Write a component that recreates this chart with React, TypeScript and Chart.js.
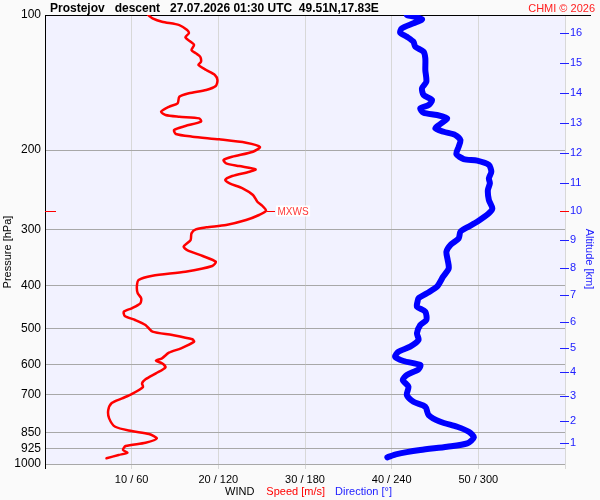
import React, { useEffect, useRef } from 'react';
import { Chart, registerables } from 'chart.js';

Chart.register(...registerables);

// ---- data ----
const speedPressure = [100, 101.7, 103.5, 105.3, 108, 109.8, 112.1, 114.7, 116.6, 119.7, 121.7, 123.8, 127.1, 129.2, 132.6, 136, 139.6, 143.9, 146.9, 149.4, 152.1, 157.3, 160.1, 164.2, 167, 168.5, 169.9, 172.8, 176.7, 180.3, 184.1, 186.6, 189.2, 192.5, 196.8, 201.6, 206.9, 210.4, 214, 217, 220.7, 223.4, 228.4, 233.1, 237.1, 243.2, 251.7, 260.5, 266.3, 272.9, 278.9, 286.2, 293.6, 297.1, 300.2, 306.4, 317.1, 328.1, 333.8, 344.2, 354.4, 362.2, 373, 380.7, 389.2, 402.8, 416.7, 427.5, 438.6, 450, 457.9, 468.1, 477.8, 490.2, 507.3, 516, 527.6, 534.1, 552.5, 565.1, 581.6, 588.8, 596.7, 609.1, 628.1, 647.8, 661.3, 673.9, 698.5, 714.2, 731.5, 758.3, 791.3, 826.1, 844.5, 857.7, 876.8, 896.8, 912.1, 930.9, 943.9, 955, 971.3];
const speedValues = [11.9, 12.4, 13.5, 15.5, 16.4, 16.6, 16.2, 16.8, 17.2, 16.9, 17.4, 17.9, 18.0, 17.7, 18.6, 19.6, 19.9, 19.7, 18.6, 16.6, 15.5, 15.3, 14.3, 13.4, 13.9, 15.5, 17.8, 18.0, 16.2, 14.9, 15.1, 17.0, 20.1, 23.2, 24.8, 24.0, 21.6, 20.6, 20.9, 22.4, 24.3, 23.6, 21.6, 20.8, 21.3, 22.8, 24.0, 24.5, 25.1, 25.5, 24.7, 23.2, 20.9, 18.6, 17.4, 16.9, 16.8, 16.0, 16.4, 18.2, 19.7, 19.3, 16.2, 12.4, 10.8, 10.6, 10.7, 11.1, 11.0, 10.0, 9.1, 9.2, 10.4, 11.6, 12.4, 14.7, 17.0, 17.2, 15.7, 14.3, 13.5, 12.8, 13.5, 13.9, 12.8, 11.6, 11.2, 11.3, 10.0, 8.9, 7.7, 7.3, 7.4, 8.1, 10.0, 12.0, 12.9, 11.6, 9.3, 9.0, 9.5, 8.5, 7.1];

const dirPressure = [100, 102.2, 104.3, 107.1, 109.5, 111.8, 114.7, 117.6, 120.7, 124.9, 132.6, 140.8, 145.6, 150.7, 154.6, 158.7, 161.4, 165.1, 167, 169.9, 174.9, 178.8, 182, 185.1, 189.9, 196.5, 204, 209.3, 211.1, 215.8, 223.4, 231.1, 237.1, 245.4, 258.2, 269.5, 276.5, 288.7, 297.1, 303.9, 314.4, 325.4, 336.8, 351.4, 366.6, 382.7, 402.8, 416.7, 427.5, 435, 446.4, 457.9, 477.8, 490.2, 511.5, 529.4, 547.9, 562.2, 576.8, 589.6, 601.8, 615.3, 633.5, 650, 672.8, 702.1, 726.6, 745.6, 778, 805.2, 826.1, 847.6, 872.2, 899.4, 915.1, 930.9, 950.3, 966.2];
const dirValues = [250.5, 261, 255.1, 247, 245.9, 250.5, 255.1, 256.3, 262.1, 263.3, 263.3, 264, 261, 262.1, 267.9, 265.6, 259.8, 262.1, 271.4, 278.4, 273.7, 270.2, 276, 284.1, 287.6, 286.4, 284.8, 289.9, 299.2, 307.3, 309, 307.3, 308, 306.6, 307.3, 309.7, 307.3, 299.2, 292.3, 287.6, 286.4, 280.7, 277.9, 278.8, 279.5, 275.6, 271.4, 264.4, 258.6, 257.9, 257.5, 263.3, 264, 259.8, 257.5, 258.6, 252.8, 244.7, 242.4, 248.2, 259.8, 258.6, 250.5, 247.7, 251.6, 250.5, 255.1, 263.3, 265.6, 273.7, 285.3, 293.4, 296.9, 292.3, 278.4, 259.8, 243.6, 237];

const pressureTicks = [100, 200, 300, 400, 500, 600, 700, 850, 925, 1000];
const speedTicks = [10, 20, 30, 40, 50];
const speedTickLabels = ['10 / 60', '20 / 120', '30 / 180', '40 / 240', '50 / 300'];
const altitudeKm = [1, 2, 3, 4, 5, 6, 7, 8, 9, 10, 11, 12, 13, 14, 15, 16];
const altitudePressure = [899.4, 801.2, 707.0, 622.9, 550.8, 482.1, 420.4, 366.6, 317.1, 273.3, 236.4, 203.2, 174.2, 149.4, 127.7, 109.8];

const titleText = 'Prostejov   descent   27.07.2026 01:30 UTC  49.51N,17.83E';
const copyrightText = 'CHMI \u00A9 2026';
const FONT = '"Liberation Sans", Arial, sans-serif';

const decorPlugin = {
  id: 'decor',
  beforeDraw(chart: any) {
    const { ctx, chartArea: a, width, height } = chart;
    ctx.save();
    ctx.fillStyle = '#fafafa';
    ctx.fillRect(0, 0, width, height);
    ctx.fillStyle = '#f2f2ff';
    ctx.fillRect(a.left, a.top, a.right - a.left, a.bottom - a.top);
    ctx.restore();
  },
  beforeDatasetsDraw(chart: any) {
    const { ctx, chartArea: a, scales } = chart;
    const yTop = Math.round(scales.y.getPixelForValue(pressureTicks[0])) + 0.5;
    ctx.save();
    ctx.strokeStyle = '#000';
    ctx.lineWidth = 1;
    ctx.beginPath();
    ctx.moveTo(a.left, yTop);
    ctx.lineTo(591, yTop);
    ctx.stroke();
    ctx.restore();
  },
  afterDraw(chart: any) {
    const { ctx, chartArea: a, scales } = chart;
    const ys = scales.y;
    const xs = scales.x;
    ctx.save();
    // altitude tick marks
    ctx.lineWidth = 1;
    ctx.strokeStyle = '#2020ff';
    altitudePressure.forEach((p) => {
      const yy = Math.round(ys.getPixelForValue(p)) + 0.5;
      ctx.beginPath();
      ctx.moveTo(a.right - 5, yy);
      ctx.lineTo(a.right + 4, yy);
      ctx.stroke();
    });
    // max wind marker
    let idx = 0;
    speedValues.forEach((v, i) => { if (v > speedValues[idx]) idx = i; });
    const px = xs.getPixelForValue(speedValues[idx]);
    const py = Math.round(ys.getPixelForValue(speedPressure[idx])) + 0.5;
    ctx.strokeStyle = '#ff0000';
    ctx.beginPath();
    ctx.moveTo(a.left, py); ctx.lineTo(a.left + 11, py);
    ctx.moveTo(a.right - 5, py); ctx.lineTo(a.right + 4, py);
    ctx.moveTo(px + 1, py); ctx.lineTo(px + 9, py);
    ctx.stroke();
    ctx.font = '10px ' + FONT;
    const mw = ctx.measureText('MXWS').width;
    ctx.fillStyle = '#ffffff';
    ctx.fillRect(px + 10, py - 6, mw + 3, 11);
    ctx.fillStyle = '#ff3a3a';
    ctx.textBaseline = 'middle';
    ctx.textAlign = 'left';
    ctx.fillText('MXWS', px + 11.5, py + 0.5);

    // title texts
    ctx.textBaseline = 'alphabetic';
    ctx.fillStyle = '#000';
    ctx.font = 'bold 12px ' + FONT;
    ctx.fillText(titleText, 50, 12);
    ctx.font = '11px ' + FONT;
    ctx.textAlign = 'right';
    ctx.fillStyle = '#ff2020';
    ctx.fillText(copyrightText, 595, 12);

    // bottom legend
    ctx.textAlign = 'left';
    let bx = 225;
    const parts: [string, string][] = [['WIND', '#000000'], ['Speed [m/s]', '#ff0000'], ['Direction [\u00B0]', '#2020ff']];
    const gaps = [12, 10, 0];
    parts.forEach(([t, c], i) => {
      ctx.fillStyle = c;
      ctx.fillText(t, bx, 495);
      bx += ctx.measureText(t).width + gaps[i];
    });

    // axis titles
    ctx.textAlign = 'center';
    ctx.textBaseline = 'middle';
    ctx.save();
    ctx.translate(8, 252);
    ctx.rotate(-Math.PI / 2);
    ctx.fillStyle = '#000';
    ctx.fillText('Pressure [hPa]', 0, 0);
    ctx.restore();
    ctx.save();
    ctx.translate(589, 259);
    ctx.rotate(Math.PI / 2);
    ctx.fillStyle = '#2020ff';
    ctx.fillText('Altitude [km]', 0, 0);
    ctx.restore();
    ctx.restore();
  },
};

export default function App() {
  const ref = useRef<HTMLCanvasElement | null>(null);

  useEffect(() => {
    if (!ref.current) return;
    const chart = new Chart(ref.current, {
      type: 'scatter',
      data: {
        datasets: [
          {
            label: 'Speed',
            data: speedPressure.map((p, i) => ({ x: speedValues[i], y: p })),
            xAxisID: 'x',
            yAxisID: 'y',
            showLine: true,
            borderColor: '#ff0000',
            borderWidth: 2.5,
            pointRadius: 0,
            tension: 0.25,
            borderJoinStyle: 'round',
            borderCapStyle: 'round',
          } as any,
          {
            label: 'Direction',
            data: dirPressure.map((p, i) => ({ x: dirValues[i], y: p })),
            xAxisID: 'x2',
            yAxisID: 'y',
            showLine: true,
            borderColor: '#0000ff',
            borderWidth: 6,
            pointRadius: 0,
            tension: 0.25,
            borderJoinStyle: 'round',
            borderCapStyle: 'round',
          } as any,
        ],
      },
      plugins: [decorPlugin],
      options: {
        animation: false,
        responsive: false,
        devicePixelRatio: 1,
        layout: { padding: { top: 15, left: 0, right: 0, bottom: 0 } },
        plugins: { legend: { display: false }, tooltip: { enabled: false } },
        scales: {
          x: {
            type: 'linear',
            position: 'bottom',
            min: 0,
            max: 60,
            afterBuildTicks: (s: any) => { s.ticks = [0, ...speedTicks, 60].map((v) => ({ value: v })); },
            afterFit: (s: any) => { s.height = 36; s.paddingLeft = 0; s.paddingRight = 0; },
            ticks: {
              autoSkip: false,
              maxRotation: 0,
              padding: 4,
              color: '#000',
              font: { family: FONT, size: 11 },
              callback: (v: any) => { const i = speedTicks.indexOf(Number(v)); return i >= 0 ? speedTickLabels[i] : ''; },
            },
            grid: {
              color: (c: any) => (c.tick && c.tick.value === 0 ? '#000000' : '#d8d8d8'),
              tickColor: (c: any) => (c.tick && c.tick.value === 0 ? '#000000' : '#d8d8d8'),
              tickLength: 5,
              drawTicks: true,
            },
            border: { display: false },
          },
          x2: { type: 'linear', min: 0, max: 360, display: false },
          y: {
            type: 'logarithmic',
            position: 'left',
            min: 100,
            max: 1000,
            reverse: true,
            afterBuildTicks: (s: any) => { s.ticks = pressureTicks.map((v) => ({ value: v })); },
            afterFit: (s: any) => { s.width = 45; s.paddingTop = 0; s.paddingBottom = 0; },
            ticks: {
              autoSkip: false,
              padding: 4,
              color: '#000',
              font: { family: FONT, size: 12 },
              callback: (v: any) => String(v),
            },
            grid: {
              color: (c: any) => (c.tick && c.tick.value === pressureTicks[0] ? 'rgba(0,0,0,0)' : '#a8a8a8'),
              drawTicks: false,
            },
            border: { display: true, color: '#000', width: 1 },
          },
          y2: {
            type: 'logarithmic',
            position: 'right',
            min: 100,
            max: 1000,
            reverse: true,
            afterBuildTicks: (s: any) => { s.ticks = altitudePressure.map((v) => ({ value: v })); },
            afterFit: (s: any) => { s.width = 35; s.paddingTop = 0; s.paddingBottom = 0; },
            ticks: {
              autoSkip: false,
              padding: 5,
              color: '#2020ff',
              font: { family: FONT, size: 11 },
              callback: (_v: any, i: number) => String(altitudeKm[i]),
            },
            grid: { drawOnChartArea: false, drawTicks: false },
            border: { display: false },
          },
        },
      } as any,
    });
    return () => chart.destroy();
  }, []);

  return (
    <div style={{ position: 'absolute', left: 0, top: 0, width: 600, height: 500 }}>
      <canvas ref={ref} width={600} height={500} style={{ width: 600, height: 500, display: 'block' }} />
    </div>
  );
}
